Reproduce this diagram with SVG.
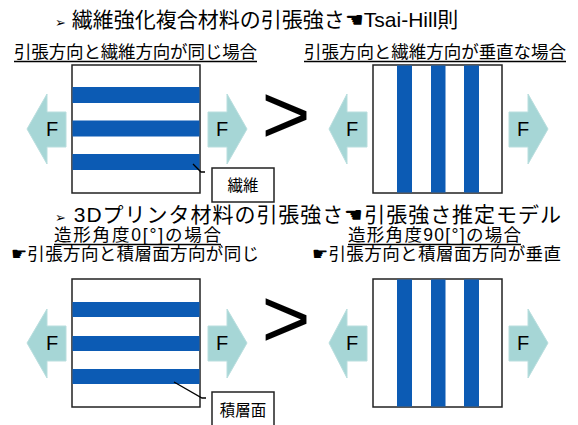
<svg xmlns="http://www.w3.org/2000/svg" width="578" height="425" viewBox="0 0 578 425">
<style>
text{font-family:"Liberation Sans","Noto Sans CJK JP",sans-serif;fill:#000}
.t{font-size:21px}
.s{font-size:17.5px}
.f{font-size:20px;text-anchor:middle}
.gt{font-size:84px;text-anchor:middle}
.lb{font-size:15.5px;text-anchor:middle}
.box{fill:#fff;stroke:#222;stroke-width:1.5}
.st{fill:#0c5bb4}
.ar{fill:#a6d6d6;stroke:#b9dede;stroke-width:1}
.ul{stroke:#000;stroke-width:1.3}
.ld{stroke:#000;stroke-width:1.3;fill:none}
</style>
<rect width="578" height="425" fill="#fff"/>
<g id="title1"><text class="t" x="55" y="27"><tspan font-size="13">➢</tspan> 繊維強化複合材料の引張強さ☚Tsai-Hill則</text></g>
<g id="sub1l"><text class="s" x="14" y="58" textLength="243">引張方向と繊維方向が同じ場合</text><line class="ul" x1="14" y1="61.5" x2="257" y2="61.5"/></g>
<g id="sub1r"><text class="s" x="304" y="58" textLength="262">引張方向と繊維方向が垂直な場合</text><line class="ul" x1="304" y1="61.5" x2="566" y2="61.5"/></g>

<g id="boxA">
<rect class="box" x="72" y="65" width="128" height="128"/>
<rect class="st" x="72.5" y="87" width="127" height="16"/>
<rect class="st" x="72.5" y="120.5" width="127" height="16"/>
<rect class="st" x="72.5" y="154" width="127" height="16"/>
</g>
<g id="boxB">
<rect class="box" x="373" y="65" width="129" height="128"/>
<rect class="st" x="397" y="65.5" width="15" height="127"/>
<rect class="st" x="431" y="65.5" width="14.5" height="127"/>
<rect class="st" x="464" y="65.5" width="15" height="127"/>
</g>
<g id="arrowsTop">
<g id="fA1"><polygon class="ar" points="27,129 47,94 47,112 66,112 66,147 47,147 47,164"/><text class="f" x="52" y="136">F</text></g>
<g id="fA2"><polygon class="ar" points="208,112 227,112 227,94 247,129 227,164 227,147 208,147"/><text class="f" x="222" y="136">F</text></g>
<g id="fB1"><polygon class="ar" points="329,129 347,94 347,112 367,112 367,147 347,147 347,164"/><text class="f" x="352" y="136">F</text></g>
<g id="fB2"><polygon class="ar" points="509,112 528,112 528,94 548,129 528,164 528,147 509,147"/><text class="f" x="523" y="136">F</text></g>
</g>
<g id="gt1"><text class="gt" x="286" y="143">&gt;</text></g>
<g id="label1"><rect class="box" x="212" y="168" width="62" height="34"/><text class="lb" x="243" y="191">繊維</text></g>

<g id="title2"><text class="t" x="55" y="222" textLength="506"><tspan font-size="13">➢</tspan> 3Dプリンタ材料の引張強さ☚引張強さ推定モデル</text></g>
<g id="sub2l"><text class="s" x="54" y="241" textLength="167">造形角度0[°]の場合</text><line class="ul" x1="54" y1="244.5" x2="221" y2="244.5"/>
<text class="s" x="11" y="260" textLength="248">☛引張方向と積層面方向が同じ</text></g>
<g id="sub2r"><text class="s" x="348" y="241" textLength="173">造形角度90[°]の場合</text><line class="ul" x1="348" y1="244.5" x2="521" y2="244.5"/>
<text class="s" x="312" y="260" textLength="249">☛引張方向と積層面方向が垂直</text></g>

<g id="boxC">
<rect class="box" x="72" y="279" width="128" height="128"/>
<rect class="st" x="72.5" y="302" width="127" height="15"/>
<rect class="st" x="72.5" y="336" width="127" height="15"/>
<rect class="st" x="72.5" y="369" width="127" height="15"/>
</g>
<g id="boxD">
<rect class="box" x="373" y="279" width="129" height="128"/>
<rect class="st" x="397" y="279.5" width="15" height="127"/>
<rect class="st" x="431" y="279.5" width="14.5" height="127"/>
<rect class="st" x="464" y="279.5" width="15" height="127"/>
</g>
<g id="arrowsBottom">
<g id="fC1"><polygon class="ar" points="27,343 47,309 47,326 66,326 66,361 47,361 47,378"/><text class="f" x="52" y="350">F</text></g>
<g id="fC2"><polygon class="ar" points="208,326 227,326 227,309 247,343 227,378 227,361 208,361"/><text class="f" x="222" y="350">F</text></g>
<g id="fD1"><polygon class="ar" points="329,343 347,309 347,326 367,326 367,361 347,361 347,378"/><text class="f" x="352" y="350">F</text></g>
<g id="fD2"><polygon class="ar" points="509,326 528,326 528,309 548,343 528,378 528,361 509,361"/><text class="f" x="523" y="350">F</text></g>
</g>
<g id="gt2"><text class="gt" x="286" y="347">&gt;</text></g>
<g id="label2"><rect class="box" x="212" y="392" width="62" height="36"/><text class="lb" x="243" y="416">積層面</text></g>

<g id="connectors">
<polyline class="ld" points="193,164 201,172 205,172"/>
<polyline class="ld" points="174,382 202,398 206,398"/>
</g>
</svg>
